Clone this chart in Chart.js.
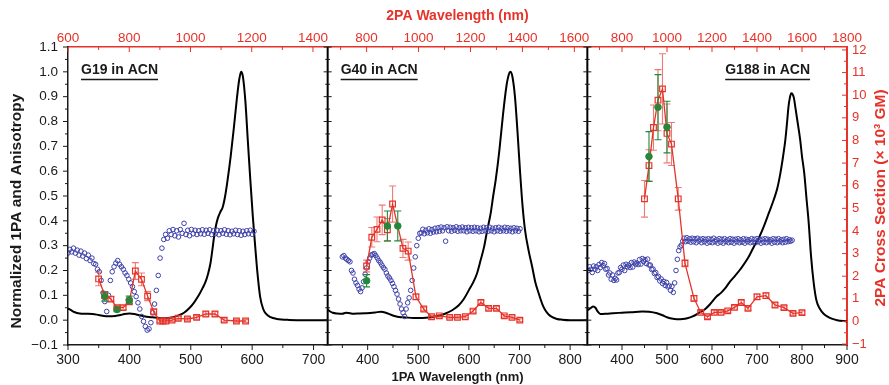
<!DOCTYPE html>
<html>
<head>
<meta charset="utf-8">
<script src="https://cdn.jsdelivr.net/npm/chart.js@4.4.1/dist/chart.umd.min.js"></script>
<style>
  html, body { margin: 0; padding: 0; background: #fff; }
</style>
</head>
<body>
<canvas id="myChart" width="889" height="385"></canvas>
<script>
// ---- axis ticks ----
const leftTicks = [-0.1, 0, 0.1, 0.2, 0.3, 0.4, 0.5, 0.6, 0.7, 0.8, 0.9, 1.0, 1.1];
const rightTicks = [-1, 0, 1, 2, 3, 4, 5, 6, 7, 8, 9, 10, 11, 12];
const g19BottomTicks = [300, 400, 500, 600, 700];
const g40BottomTicks = [400, 500, 600, 700, 800];
const g188BottomTicks = [400, 500, 600, 700, 800, 900];
const g19TopTicks = [600, 800, 1000, 1200, 1400];
const g40TopTicks = [800, 1000, 1200, 1400, 1600];
const g188TopTicks = [800, 1000, 1200, 1400, 1600, 1800];

// ---- G19: 1PA absorption (black) ----
const g19AbsWl = [300, 305, 310, 319, 330, 340, 350, 362, 372, 384, 392, 400, 408, 416, 424, 432, 440, 449, 457, 465, 473, 481, 489, 497, 505, 513, 519, 524, 528, 532, 535, 538, 541, 544, 548, 552, 556, 560, 565, 570, 575, 579, 582, 585, 589, 593, 597, 601, 605, 609, 613, 618, 622, 630, 640, 660, 690, 723];
const g19Abs = [0.047, 0.04, 0.033, 0.027, 0.026, 0.025, 0.021, 0.016, 0.016, 0.02, 0.025, 0.027, 0.025, 0.02, 0.016, 0.013, 0.011, 0.009, 0.008, 0.009, 0.013, 0.02, 0.03, 0.047, 0.07, 0.1, 0.128, 0.154, 0.185, 0.228, 0.28, 0.336, 0.38, 0.41, 0.435, 0.455, 0.5, 0.565, 0.66, 0.77, 0.89, 0.97, 1.0, 0.98, 0.88, 0.72, 0.565, 0.42, 0.295, 0.18, 0.094, 0.045, 0.027, 0.012, 0.005, 0.001, 0, 0];
// G19 anisotropy (blue), sampled every 3 nm
const anisoStep = 3;
const g19AnisoStart = 300;
const g19Aniso = [0.27, 0.285, 0.275, 0.29, 0.27, 0.282, 0.262, 0.278, 0.258, 0.27, 0.248, 0.262, 0.24, 0.25, 0.228, 0.225, 0.205, 0.195, 0.16, 0.11, 0.075, 0.035, 0.1, 0.16, 0.195, 0.215, 0.23, 0.24, 0.225, 0.215, 0.205, 0.19, 0.18, 0.165, 0.15, 0.135, 0.115, 0.095, 0.07, 0.045, 0.015, -0.005, -0.025, -0.04, -0.035, -0.01, 0.03, 0.065, 0.12, 0.18, 0.25, 0.29, 0.325,
  0.345, 0.33, 0.36, 0.345, 0.365, 0.34, 0.36, 0.335, 0.365, 0.35, 0.39, 0.345, 0.362, 0.34, 0.365, 0.348, 0.362, 0.345, 0.36, 0.348, 0.364, 0.346, 0.362, 0.35, 0.364, 0.345, 0.36, 0.348, 0.362, 0.344, 0.36, 0.35, 0.364, 0.346, 0.36, 0.344, 0.358, 0.348, 0.362, 0.345, 0.36, 0.342, 0.358, 0.345, 0.36, 0.348, 0.362, 0.346, 0.358];
// G19 2PA cross section (red, vs 2PA wavelength) and second method (green)
const g19TpaWl = [700, 720, 740, 760, 780, 800, 820, 840, 860, 880, 900, 910, 920, 940, 960, 990, 1020, 1050, 1080, 1110, 1150, 1180];
const g19Tpa = [1.88, 1.17, 0.99, 0.61, 0.61, 0.87, 2.23, 1.86, 1.12, 0.43, 0.02, 0.02, 0.02, 0.06, 0.14, 0.11, 0.18, 0.33, 0.33, 0.06, 0.02, 0.02];
const g19TpaErr = [0.3, 0.15, 0.1, 0.08, 0.08, 0.1, 0.37, 0.28, 0.2, 0.1, 0.06, 0.06, 0.06, 0.06, 0.08, 0.08, 0.08, 0.1, 0.1, 0.08, 0.06, 0.06];
const g19ZsWl = [720, 760, 800];
const g19Zs = [1.1, 0.53, 0.95];
const g19ZsErr = [0.2, 0.1, 0.17];

// ---- G40 ----
const g40AbsWl = [321, 326, 331, 340, 350, 357, 365, 372, 384, 395, 405, 415, 426, 436, 446, 455, 462, 475, 490, 502, 515, 528, 541, 554, 567, 580, 590, 600, 608, 616, 623, 630, 636, 643, 648, 653, 660, 667, 674, 679, 682, 686, 691, 696, 701, 706, 711, 718, 725, 731, 738, 745, 751, 758, 764, 774, 784, 800, 834];
const g40Abs = [0.043, 0.035, 0.03, 0.027, 0.026, 0.03, 0.028, 0.026, 0.027, 0.028, 0.029, 0.031, 0.034, 0.03, 0.022, 0.016, 0.013, 0.011, 0.009, 0.009, 0.01, 0.013, 0.018, 0.027, 0.04, 0.06, 0.085, 0.121, 0.15, 0.188, 0.24, 0.295, 0.36, 0.43, 0.5, 0.565, 0.68, 0.82, 0.94, 0.99, 1.0, 0.98, 0.9, 0.76, 0.6, 0.46, 0.362, 0.28, 0.215, 0.155, 0.107, 0.065, 0.04, 0.022, 0.013, 0.005, 0.002, 0, 0];
const g40AnisoStart = 350;
const g40Aniso = [0.255, 0.26, 0.25, 0.245, 0.24, 0.235, 0.2, 0.19, 0.165, 0.15, 0.14, 0.125, 0.115, 0.13, 0.155, 0.185, 0.21, 0.235, 0.25, 0.262, 0.265, 0.268, 0.26, 0.25, 0.24, 0.232, 0.222, 0.212, 0.205, 0.19, 0.178, 0.17, 0.16, 0.148, 0.135, 0.12, 0.105, 0.085, 0.065, 0.045, 0.03, 0.015, 0.045, 0.07, 0.09, 0.12, 0.16, 0.21, 0.255, 0.3, 0.33, 0.35,
  0.352, 0.366, 0.348, 0.362, 0.352, 0.368, 0.35, 0.365, 0.355, 0.37, 0.356, 0.372, 0.358, 0.375, 0.36, 0.372, 0.318, 0.376, 0.36, 0.374, 0.358, 0.372, 0.362, 0.376, 0.358, 0.372, 0.36, 0.375, 0.36, 0.372, 0.356, 0.374, 0.36, 0.372, 0.358, 0.374, 0.36, 0.372, 0.356, 0.37, 0.358, 0.374, 0.36, 0.372, 0.358, 0.374, 0.36, 0.37, 0.356, 0.372, 0.36, 0.374, 0.358, 0.37, 0.36, 0.374, 0.358, 0.372, 0.36, 0.37, 0.356, 0.372, 0.36, 0.37, 0.358, 0.368];
const g40TpaWl = [800, 820, 840, 860, 880, 900, 940, 960, 990, 1020, 1050, 1080, 1120, 1150, 1180, 1210, 1240, 1270, 1300, 1330, 1360, 1390];
const g40Tpa = [2.45, 3.72, 4.07, 4.49, 4.05, 5.19, 3.23, 3.11, 1.09, 0.55, 0.21, 0.25, 0.18, 0.18, 0.21, 0.46, 0.84, 0.58, 0.58, 0.25, 0.18, 0.06];
const g40TpaErr = [0.26, 0.43, 0.55, 0.65, 0.5, 0.8, 0.4, 0.4, 0.12, 0.08, 0.06, 0.06, 0.06, 0.06, 0.06, 0.08, 0.1, 0.08, 0.08, 0.06, 0.06, 0.06];
const g40ZsWl = [800, 880, 920];
const g40Zs = [1.8, 4.22, 4.22];
const g40ZsErr = [0.27, 0.66, 0.66];

// ---- G188 ----
const g188AbsWl = [323, 330, 336, 341, 346, 352, 365, 380, 400, 420, 445, 460, 478, 490, 500, 510, 522, 535, 545, 557, 570, 585, 596, 610, 620, 630, 640, 652, 663, 680, 693, 705, 715, 726, 737, 745, 752, 758, 763, 767, 770, 773, 776, 779, 782, 785, 790, 796, 800, 805, 810, 815, 820, 826, 832, 840, 848, 856, 866, 878, 900];
const g188Abs = [0.04, 0.048, 0.055, 0.05, 0.035, 0.025, 0.026, 0.028, 0.03, 0.032, 0.035, 0.034, 0.028, 0.02, 0.012, 0.007, 0.004, 0.005, 0.008, 0.015, 0.028, 0.045, 0.065, 0.095, 0.11, 0.13, 0.155, 0.18, 0.205, 0.25, 0.296, 0.335, 0.377, 0.43, 0.484, 0.53, 0.592, 0.66, 0.726, 0.8, 0.86, 0.895, 0.914, 0.91, 0.895, 0.86, 0.8, 0.726, 0.66, 0.592, 0.49, 0.39, 0.26, 0.15, 0.08, 0.045, 0.026, 0.015, 0.006, 0, -0.005];
const g188AnisoStart = 325;
const g188Aniso = [0.2, 0.215, 0.205, 0.192, 0.218, 0.205, 0.215, 0.2, 0.224, 0.212, 0.232, 0.22, 0.228, 0.205, 0.208, 0.182, 0.19, 0.165, 0.182, 0.16, 0.168, 0.162, 0.19, 0.192, 0.212, 0.205, 0.222, 0.2, 0.225, 0.215, 0.222, 0.212, 0.232, 0.214, 0.234, 0.226, 0.23, 0.224, 0.244, 0.226, 0.248, 0.236, 0.244, 0.228, 0.246, 0.222, 0.222, 0.204, 0.206, 0.188, 0.192, 0.172, 0.176, 0.158, 0.166, 0.148, 0.156, 0.14, 0.152, 0.134, 0.138, 0.12, 0.136, 0.112, 0.15, 0.2, 0.245, 0.28, 0.295, 0.302, 0.318,
  0.33, 0.316, 0.332, 0.318, 0.328, 0.314, 0.33, 0.316, 0.328, 0.312,
  0.33, 0.318, 0.326, 0.312, 0.328, 0.316, 0.326, 0.31, 0.328, 0.314,
  0.326, 0.312, 0.33, 0.316, 0.324, 0.31, 0.328, 0.314, 0.326, 0.31,
  0.328, 0.316, 0.324, 0.312, 0.328, 0.314, 0.326, 0.31, 0.326, 0.316,
  0.328, 0.312, 0.324, 0.314, 0.328, 0.31, 0.326, 0.316, 0.324, 0.312,
  0.328, 0.314, 0.326, 0.312, 0.328, 0.316, 0.324, 0.31, 0.326, 0.314,
  0.328, 0.312, 0.326, 0.316, 0.324, 0.31, 0.328, 0.314, 0.326, 0.312,
  0.328, 0.316, 0.324, 0.312, 0.326, 0.314, 0.328, 0.316, 0.324, 0.318, 0.322];
const g188TpaWl = [900, 920, 940, 960, 980, 1000, 1020, 1050, 1080, 1120, 1150, 1180, 1210, 1240, 1270, 1300, 1330, 1360, 1400, 1440, 1480, 1520, 1560, 1600];
const g188Tpa = [5.42, 6.89, 8.57, 9.78, 10.28, 8.31, 7.84, 5.42, 2.57, 1.02, 0.4, 0.21, 0.4, 0.4, 0.47, 0.62, 0.84, 0.58, 1.09, 1.14, 0.73, 0.61, 0.36, 0.39];
const g188TpaErr = [0.81, 0.7, 1.0, 1.35, 1.55, 1.3, 0.95, 0.5, 0.15, 0.12, 0.08, 0.08, 0.08, 0.08, 0.08, 0.08, 0.1, 0.08, 0.12, 0.12, 0.1, 0.08, 0.08, 0.08];
const g188ZsWl = [920, 960, 1000];
const g188Zs = [7.29, 9.47, 8.59];
const g188ZsErr = [1.1, 1.44, 1.14];

const RED = '#e63329';
const RED_BAR = 'rgba(230, 51, 41, 0.65)';
const BLUE = '#3d40a8';
const GREEN = '#1f8a3b';
const INK = '#1a1a1a';
const FONT = '"Liberation Sans", Arial, Helvetica, sans-serif';

Chart.defaults.font.family = FONT;
Chart.defaults.color = INK;

const panels = [
  { x: 'x1', t: 't1', label: 'G19 in ACN', absWl: g19AbsWl, abs: g19Abs, anisoStart: g19AnisoStart, aniso: g19Aniso,
    tpaWl: g19TpaWl, tpa: g19Tpa, tpaErr: g19TpaErr, zsWl: g19ZsWl, zs: g19Zs, zsErr: g19ZsErr },
  { x: 'x2', t: 't2', label: 'G40 in ACN', absWl: g40AbsWl, abs: g40Abs, anisoStart: g40AnisoStart, aniso: g40Aniso,
    tpaWl: g40TpaWl, tpa: g40Tpa, tpaErr: g40TpaErr, zsWl: g40ZsWl, zs: g40Zs, zsErr: g40ZsErr },
  { x: 'x3', t: 't3', label: 'G188 in ACN', absWl: g188AbsWl, abs: g188Abs, anisoStart: g188AnisoStart, aniso: g188Aniso,
    tpaWl: g188TpaWl, tpa: g188Tpa, tpaErr: g188TpaErr, zsWl: g188ZsWl, zs: g188Zs, zsErr: g188ZsErr }
];

const pts = (xs, ys) => ys.map((v, i) => ({ x: xs[i], y: v }));

const datasets = [];
panels.forEach(p => {
  datasets.push({ data: pts(p.zsWl, p.zs), xAxisID: p.t, yAxisID: 'yr', showLine: false,
    pointRadius: 3.3, pointBackgroundColor: GREEN, pointBorderColor: GREEN, pointBorderWidth: 1 });
  datasets.push({ data: pts(p.tpaWl, p.tpa), xAxisID: p.t, yAxisID: 'yr', showLine: true,
    borderColor: RED, borderWidth: 1.3, pointStyle: 'rect', pointRadius: 4,
    pointBorderColor: RED, pointBorderWidth: 1.2, pointBackgroundColor: 'rgba(255,255,255,0)' });
  datasets.push({ data: p.aniso.map((v, i) => ({ x: p.anisoStart + i * anisoStep, y: v })), xAxisID: p.x, yAxisID: 'y',
    showLine: false, pointRadius: 2.3, pointBorderColor: BLUE, pointBorderWidth: 1, pointBackgroundColor: 'rgba(0,0,0,0)' });
  datasets.push({ data: pts(p.absWl, p.abs), xAxisID: p.x, yAxisID: 'y', showLine: true,
    borderColor: '#000', borderWidth: 2, pointRadius: 0, cubicInterpolationMode: 'monotone' });
});

const setTicks = vals => axis => { axis.ticks = vals.map(v => ({ value: v })); };
const plain = v => String(v);
const signed = d => v => (v < 0 ? '\u2212' : '') + Math.abs(v).toFixed(d);

function xAxis(position, min, max, ticks, weight) {
  const top = position === 'top';
  return {
    type: 'linear', position, min, max, weight, stack: position, stackWeight: 1,
    afterBuildTicks: setTicks(ticks),
    afterFit: axis => { axis.height = top ? 47 : 40; },
    grid: { display: false, drawTicks: false },
    border: { color: top ? RED : INK, width: 1.5 },
    ticks: { color: top ? RED : INK, font: { size: top ? 13.5 : 14 }, padding: top ? 1 : 7,
      autoSkip: false, maxRotation: 0, callback: plain }
  };
}

const scales = {
  x1: xAxis('bottom', 300, 723, g19BottomTicks, 0),
  x2: xAxis('bottom', 321, 834, g40BottomTicks, 0),
  x3: xAxis('bottom', 323, 900, g188BottomTicks, 0),
  t1: xAxis('top', 600, 1448, g19TopTicks, 3),
  t2: xAxis('top', 650, 1650, g40TopTicks, 2),
  t3: xAxis('top', 646, 1800, g188TopTicks, 1),
  y: {
    type: 'linear', position: 'left', min: -0.1, max: 1.1,
    afterBuildTicks: setTicks(leftTicks),
    afterFit: axis => { axis.width = 68; },
    grid: { display: false, drawTicks: false },
    border: { color: INK, width: 1.5 },
    ticks: { color: INK, font: { size: 13.5 }, padding: 10, autoSkip: false, callback: signed(1) }
  },
  yr: {
    type: 'linear', position: 'right', min: -1.04, max: 12.13,
    afterBuildTicks: setTicks(rightTicks),
    afterFit: axis => { axis.width = 42; },
    grid: { display: false, drawTicks: false },
    border: { color: RED, width: 2 },
    ticks: { color: RED, font: { size: 13 }, padding: 5, autoSkip: false, callback: signed(0) }
  }
};
scales.x2.title = { display: true, text: '1PA Wavelength (nm)', color: INK,
  font: { size: 13, weight: 'bold' }, padding: { top: 0, bottom: 0 } };
scales.t2.title = { display: true, text: '2PA Wavelength (nm)', color: RED,
  font: { size: 14, weight: 'bold' }, padding: { top: 8, bottom: 0 } };

// tick marks, major + half-step minors
function marks(ctx, scale, majors, at, dir, len, color) {
  const step = majors[1] - majors[0];
  const list = [];
  majors.forEach(m => { list.push([m, len]); list.push([m - step / 2, len * 0.6]); });
  list.push([majors[majors.length - 1] + step / 2, len * 0.6]);
  ctx.save();
  ctx.strokeStyle = color;
  ctx.lineWidth = 1;
  ctx.beginPath();
  list.forEach(([v, l]) => {
    if (v < scale.min - 1e-9 || v > scale.max + 1e-9) return;
    const p = scale.getPixelForValue(v);
    if (scale.isHorizontal()) { ctx.moveTo(p, at); ctx.lineTo(p, at + dir * l); }
    else { ctx.moveTo(at, p); ctx.lineTo(at + dir * l, p); }
  });
  ctx.stroke();
  ctx.restore();
}

function bars(ctx, xs, ys, wl, val, err, color) {
  ctx.save();
  ctx.strokeStyle = color;
  ctx.lineWidth = 1.1;
  ctx.beginPath();
  wl.forEach((w, i) => {
    const px = xs.getPixelForValue(w);
    const hi = ys.getPixelForValue(val[i] + err[i]);
    const lo = ys.getPixelForValue(val[i] - err[i]);
    ctx.moveTo(px, hi); ctx.lineTo(px, lo);
    ctx.moveTo(px - 3.5, hi); ctx.lineTo(px + 3.5, hi);
    ctx.moveTo(px - 3.5, lo); ctx.lineTo(px + 3.5, lo);
  });
  ctx.stroke();
  ctx.restore();
}

const frame = {
  id: 'frame',
  afterDatasetsDraw(chart) {
    const s = chart.scales;
    panels.forEach(p => {
      bars(chart.ctx, s[p.t], s.yr, p.tpaWl, p.tpa, p.tpaErr, RED_BAR);
      bars(chart.ctx, s[p.t], s.yr, p.zsWl, p.zs, p.zsErr, GREEN);
    });
  },
  afterDraw(chart) {
    const ctx = chart.ctx, a = chart.chartArea, s = chart.scales;
    marks(ctx, s.y, leftTicks, a.left, -1, 5, INK);
    marks(ctx, s.yr, rightTicks, a.right, -1, 5, RED);
    [[s.x1, g19BottomTicks], [s.x2, g40BottomTicks], [s.x3, g188BottomTicks]].forEach(([sc, tk]) => marks(ctx, sc, tk, a.bottom, 1, 5, INK));
    [[s.t1, g19TopTicks], [s.t2, g40TopTicks], [s.t3, g188TopTicks]].forEach(([sc, tk]) => marks(ctx, sc, tk, a.top, 1, 5, RED));

    // panel separators
    [s.x1.right, s.x2.right].forEach(xp => {
      ctx.save();
      ctx.strokeStyle = '#000';
      ctx.lineWidth = 2;
      ctx.beginPath();
      ctx.moveTo(xp, a.top);
      ctx.lineTo(xp, a.bottom);
      ctx.stroke();
      ctx.restore();
      marks(ctx, s.y, leftTicks, xp, -1, 4, INK);
      marks(ctx, s.y, leftTicks, xp, 1, 4, INK);
    });

    // panel labels
    ctx.save();
    ctx.font = 'bold 14px ' + FONT;
    ctx.fillStyle = INK;
    ctx.strokeStyle = INK;
    ctx.lineWidth = 1.4;
    ctx.textBaseline = 'middle';
    panels.forEach((p, i) => {
      const w = ctx.measureText(p.label).width;
      const x0 = i < 2 ? s[p.x].left + 13 : s[p.x].right - 37 - w;
      ctx.fillText(p.label, x0, 70);
      ctx.beginPath();
      ctx.moveTo(x0, 79.5);
      ctx.lineTo(x0 + w, 79.5);
      ctx.stroke();
    });
    ctx.restore();

    // side titles
    ctx.save();
    ctx.font = 'bold 15.5px ' + FONT;
    ctx.textAlign = 'center';
    ctx.textBaseline = 'middle';
    ctx.translate(17, 211);
    ctx.rotate(-Math.PI / 2);
    ctx.fillStyle = INK;
    ctx.fillText('Normalized 1PA and Anisotropy', 0, 0);
    ctx.restore();
    ctx.save();
    ctx.font = 'bold 15.5px ' + FONT;
    ctx.textAlign = 'center';
    ctx.textBaseline = 'middle';
    ctx.translate(881, 198);
    ctx.rotate(-Math.PI / 2);
    ctx.fillStyle = RED;
    ctx.fillText('2PA Cross Section (\u00d7 10\u00b3 GM)', 0, 0);
    ctx.restore();
  }
};

const ctx = document.getElementById('myChart').getContext('2d');
const myChart = new Chart(ctx, {
  type: 'scatter',
  data: { datasets },
  options: {
    responsive: false,
    animation: false,
    events: [],
    layout: { padding: 0 },
    plugins: { legend: { display: false }, tooltip: { enabled: false }, title: { display: false } },
    scales
  },
  plugins: [frame]
});
</script>
</body>
</html>
